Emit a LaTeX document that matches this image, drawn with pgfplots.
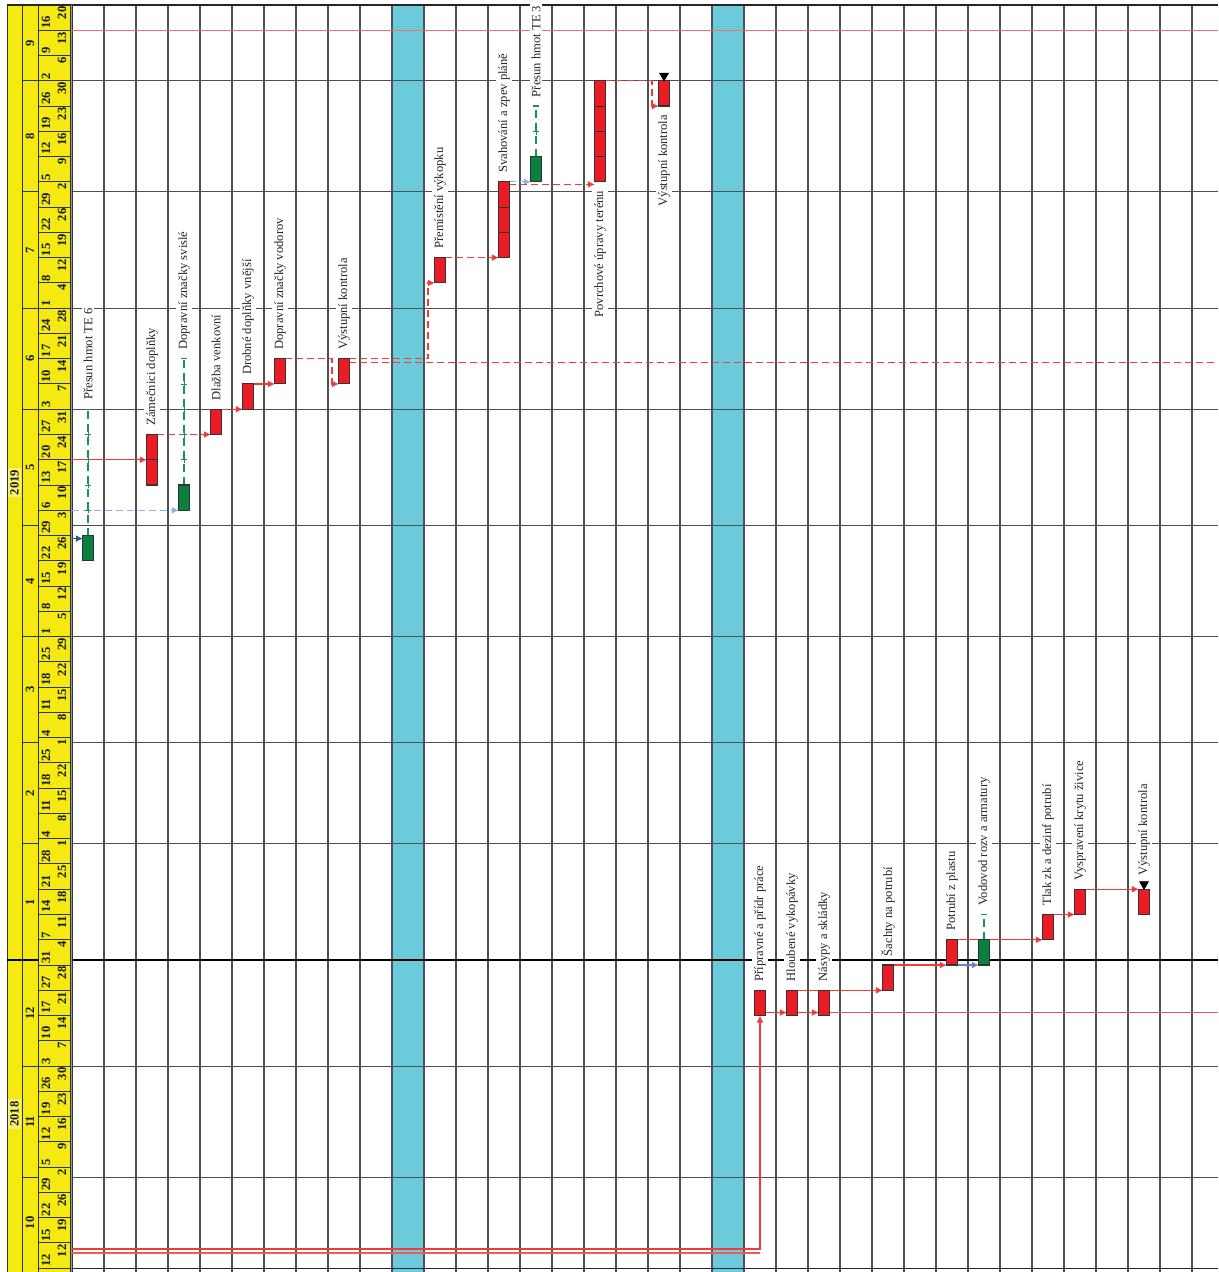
\documentclass[border=0pt]{standalone}
\usepackage{pgfplots}
\pgfplotsset{compat=1.18}
\usepackage{pgfplotstable}
\usepackage{fontspec}
\setmainfont{Liberation Serif}
\usetikzlibrary{arrows.meta}

\definecolor{barred}{RGB}{237,28,36}
\definecolor{bargreen}{RGB}{10,128,64}
\definecolor{cyanband}{RGB}{108,203,219}
\definecolor{hdryellow}{RGB}{244,233,16}
\definecolor{linkred}{RGB}{238,60,60}
\definecolor{toplinered}{RGB}{240,110,110}
\definecolor{lightblue}{RGB}{140,182,226}
\definecolor{darkblue}{RGB}{50,80,160}
\definecolor{midblue}{RGB}{100,130,200}
\definecolor{slackgreen}{RGB}{30,145,85}
\definecolor{gridc}{RGB}{80,80,80}

\tikzset{
  lnk/.style={line width=0.65pt, -{Latex[length=3.5pt,width=3.5pt]}},
  dsh/.style={dash pattern=on 3.5pt off 2pt},
  tasklabel/.style={rotate=90, fill=white, inner sep=1pt, text=black!85, font=\fontsize{6.3}{7}\selectfont},
  hdr/.style={font=\fontsize{6.3}{6.5}\selectfont\bfseries, text=black!90},
}

% week cells: Monday start (workday index, 1 Jan 2019 = 0), Monday and Friday labels
\pgfplotstableread{
d mon fri
-61 12 12
-56 15 19
-51 22 26
-46 29 2
-41 5 9
-36 12 16
-31 19 23
-26 26 30
-21 3 7
-16 10 14
-11 17 21
-6 27 28
-1 31 4
4 7 11
9 14 18
14 21 25
19 28 1
24 4 8
29 11 15
34 18 22
39 25 1
44 4 8
49 11 15
54 18 22
59 25 29
64 1 5
69 8 12
74 15 19
79 22 26
84 29 3
89 6 10
94 13 17
99 20 24
104 27 31
109 3 7
114 10 14
119 17 21
124 24 28
129 1 4
134 8 12
139 15 19
144 22 26
149 29 2
154 5 9
159 12 16
164 19 23
169 26 30
174 2 6
179 9 13
184 16 20
}\weeks

\pgfplotstableread{
d t
-52 10
-32 11
-10.5 12
11.5 1
33 2
53.5 3
75 4
97.5 5
119 6
140.5 7
163 8
181.5 9
}\months

\newcommand{\taskbar}[4]{%
  \pgfmathsetmacro\tbxa{#1-0.16}\pgfmathsetmacro\tbxb{#1+0.16}%
  \edef\tbtmp{\noexpand\addplot[fill=#4, draw=black!80, line width=0.55pt] coordinates {(\tbxa,#2) (\tbxb,#2) (\tbxb,#3) (\tbxa,#3)} --cycle;}\tbtmp}
\newcommand{\divider}[2]{%
  \pgfmathsetmacro\tbxa{#1-0.16}\pgfmathsetmacro\tbxb{#1+0.16}%
  \edef\tbtmp{\noexpand\addplot[black!80, line width=0.5pt] coordinates {(\tbxa,#2) (\tbxb,#2)};}\tbtmp}
\newcommand{\slack}[3]{%
  \pgfmathsetmacro\tbxa{#1-0.1}\pgfmathsetmacro\tbxb{#1+0.1}%
  \edef\tbtmp{\noexpand\addplot[slackgreen, line width=0.6pt, dash pattern=on 4pt off 2.5pt] coordinates {(#1,#2) (#1,#3)};
  \noexpand\addplot[slackgreen, line width=0.6pt] coordinates {(\tbxa,#3) (\tbxb,#3)};}\tbtmp}

\begin{document}
\begin{tikzpicture}
\begin{axis}[
  scale only axis, width=609pt, height=636pt,
  xmin=-2.75, xmax=35.3125, ymin=-61.75, ymax=189.99,
  hide axis, clip=true,
]
% background
\addplot[fill=white, draw=none] coordinates {(-2.75,-61.75) (35.3125,-61.75) (35.3125,189.99) (-2.75,189.99)} --cycle;
% cyan bands
\addplot[fill=cyanband, draw=none] coordinates {(9.5,-61.75) (10.5,-61.75) (10.5,189) (9.5,189)} --cycle;
\addplot[fill=cyanband, draw=none] coordinates {(19.5,-61.75) (20.5,-61.75) (20.5,189) (19.5,189)} --cycle;
% vertical grid
\pgfplotsinvokeforeach{-0.5,0.5,...,34.5}{
  \addplot[gridc, line width=0.55pt] coordinates {(#1,-61.75) (#1,189)};
}
% month lines in chart
\pgfplotsinvokeforeach{-43,-21,23,43,64,86,109,129,152,174}{
  \addplot[gridc, line width=0.55pt] coordinates {(-0.5,#1) (35.3125,#1)};
}
\addplot[black, line width=1pt] coordinates {(-0.5,0) (35.3125,0)};
\addplot[black!85, line width=0.6pt] coordinates {(-2.531,189) (35.3125,189)};
\addplot[black!85, line width=0.6pt] coordinates {(-1.5625,-61) (35.3125,-61)};

% header
\addplot[fill=hdryellow, draw=none] coordinates {(-2.531,-61.75) (-0.5625,-61.75) (-0.5625,189) (-2.531,189)} --cycle;
\addplot[fill=black!40, draw=none] coordinates {(-0.5625,-61.75) (-0.5,-61.75) (-0.5,189) (-0.5625,189)} --cycle;
\pgfplotsinvokeforeach{-2.531,-2.0625,-1.5625,-0.5625,-0.5}{
  \addplot[black!80, line width=0.5pt] coordinates {(#1,-61.75) (#1,189)};
}
\pgfplotsinvokeforeach{-43,-21,23,43,64,86,109,129,152,174}{
  \addplot[black!80, line width=0.5pt] coordinates {(-2.0625,#1) (-1.5625,#1)};
}
\pgfplotsinvokeforeach{-61,-56,...,189}{
  \addplot[black!80, line width=0.5pt] coordinates {(-1.5625,#1) (-0.5625,#1)};
}
\addplot[black, line width=1pt] coordinates {(-2.531,0) (-1.5625,0)};
\addplot[black!85, line width=0.6pt] coordinates {(-2.531,189) (-0.5625,189)};

% header labels
\addplot[only marks, mark=none, nodes near coords, point meta=explicit symbolic,
  every node near coord/.append style={hdr, rotate=90, anchor=west, inner sep=0.6pt}]
  table[x expr=-1.3125, y=d, meta=mon] {\weeks};
\addplot[only marks, mark=none, nodes near coords, point meta=explicit symbolic,
  every node near coord/.append style={hdr, rotate=90, anchor=east, inner sep=0.6pt}]
  table[x expr=-0.8125, y expr=\thisrow{d}+5, meta=fri] {\weeks};
\addplot[only marks, mark=none, nodes near coords, point meta=explicit symbolic,
  every node near coord/.append style={hdr, rotate=90, anchor=center}]
  table[x expr=-1.8125, y=d, meta=t] {\months};
\node[hdr, rotate=90, fill=hdryellow!60!white, inner sep=1pt] at (axis cs:-2.297,-30.5) {2018};
\node[hdr, rotate=90, fill=hdryellow!60!white, inner sep=1pt] at (axis cs:-2.297,94.5) {2019};

% long red lines
\addplot[toplinered, line width=0.55pt] coordinates {(-0.5,184) (35.3125,184)};
\addplot[linkred, line width=0.65pt, dsh] coordinates {(8.16,118.3) (35.3125,118.3)};
\addplot[linkred!85, line width=0.6pt] coordinates {(21.16,-10.4) (35.3125,-10.4)};
\addplot[linkred!85, line width=0.6pt] coordinates {(-0.5,-58.0) (21,-58.0)};
\addplot[linkred, lnk] coordinates {(-0.5,-57.2) (21,-57.2) (21,-11)};

% links
\addplot[darkblue, lnk] coordinates {(-0.5,83.4) (-0.16,83.4)};
\addplot[linkred, lnk] coordinates {(-0.5,99) (1.84,99)};
\addplot[lightblue, lnk, dsh] coordinates {(-0.5,89) (2.84,89)};
\addplot[linkred, lnk, dsh] coordinates {(2.16,104) (3.84,104)};
\addplot[linkred, lnk, dsh] coordinates {(4.16,109) (4.84,109)};
\addplot[linkred, lnk] coordinates {(5.16,114) (5.84,114)};
\addplot[linkred, lnk, dsh] coordinates {(6.16,119) (7.625,119) (7.625,114) (7.84,114)};
\addplot[linkred, lnk, dsh] coordinates {(8.16,119) (10.625,119) (10.625,134) (10.84,134)};
\addplot[linkred, lnk, dsh] coordinates {(11.16,139) (12.84,139)};
\addplot[lightblue, lnk, dsh] coordinates {(13.16,154) (13.84,154)};
\addplot[linkred, lnk, dsh] coordinates {(13.16,153.5) (15.84,153.5)};
\addplot[linkred, lnk, dsh] coordinates {(16.16,174) (17.625,174) (17.625,169) (17.84,169)};
\addplot[linkred, lnk] coordinates {(21.16,-10.4) (21.84,-10.4)};
\addplot[linkred, lnk] coordinates {(22.16,-10.4) (22.84,-10.4)};
\addplot[linkred, lnk] coordinates {(22.16,-6) (24.84,-6)};
\addplot[linkred, lnk] coordinates {(25.16,-1) (26.84,-1)};
\addplot[midblue, lnk] coordinates {(27.16,-1) (27.84,-1)};
\addplot[linkred, lnk] coordinates {(27.16,4) (29.84,4)};
\addplot[linkred, lnk] coordinates {(30.16,9) (30.84,9)};
\addplot[linkred, lnk] coordinates {(31.16,14) (32.84,14)};

% slack lines
\slack{0}{84}{109}
\addplot[only marks, mark=+, slackgreen, mark size=1.6pt] coordinates {(0,89) (0,94) (0,99) (0,104)};
\slack{3}{94}{119}
\addplot[only marks, mark=+, slackgreen, mark size=1.6pt] coordinates {(3,99) (3,104) (3,109) (3,114)};
\slack{14}{159}{169}
\addplot[only marks, mark=+, slackgreen, mark size=1.6pt] coordinates {(14,164)};
\slack{28}{4}{9}

% bars
\taskbar{0}{79}{84}{bargreen}
\taskbar{2}{94}{104}{barred}\divider{2}{99}
\taskbar{3}{89}{94}{bargreen}
\taskbar{4}{104}{109}{barred}
\taskbar{5}{109}{114}{barred}
\taskbar{6}{114}{119}{barred}
\taskbar{8}{114}{119}{barred}
\taskbar{11}{134}{139}{barred}
\taskbar{13}{139}{154}{barred}\divider{13}{144}\divider{13}{149}
\taskbar{14}{154}{159}{bargreen}
\taskbar{16}{154}{174}{barred}\divider{16}{159}\divider{16}{164}\divider{16}{169}
\taskbar{18}{169}{174}{barred}
\taskbar{21}{-11}{-6}{barred}
\taskbar{22}{-11}{-6}{barred}
\taskbar{23}{-11}{-6}{barred}
\taskbar{25}{-6}{-1}{barred}
\taskbar{27}{-1}{4}{barred}
\taskbar{28}{-1}{4}{bargreen}
\taskbar{30}{4}{9}{barred}
\taskbar{31}{9}{14}{barred}
\taskbar{33}{9}{14}{barred}

% milestones (finish markers)
\addplot[only marks, mark=triangle*, mark size=2.5pt, mark options={rotate=180, fill=black, draw=black}] coordinates {(18,175.0) (33,15.0)};

% task labels
\node[tasklabel, anchor=west] at (axis cs:0,110.4) {Přesun hmot TE 6};
\node[tasklabel, anchor=west] at (axis cs:2,105.3) {Zámečnici doplňky};
\node[tasklabel, anchor=west] at (axis cs:3,120.3) {Dopravní značky svislé};
\node[tasklabel, anchor=west] at (axis cs:4,110.3) {Dlažba venkovní};
\node[tasklabel, anchor=west] at (axis cs:5,115.3) {Drobné doplňky vnější};
\node[tasklabel, anchor=west] at (axis cs:6,120.3) {Dopravní značky vodorov};
\node[tasklabel, anchor=west] at (axis cs:8,120.3) {Výstupní kontrola};
\node[tasklabel, anchor=west] at (axis cs:11,140.3) {Přemístění výkopku};
\node[tasklabel, anchor=west] at (axis cs:13,155.3) {Svahování a zpev pláně};
\node[tasklabel, anchor=west] at (axis cs:14,170.3) {Přesun hmot TE 3};
\node[tasklabel, anchor=east] at (axis cs:16,152.7) {Povrchové úpravy terénu};
\node[tasklabel, anchor=east] at (axis cs:18,167.7) {Výstupní kontrola};
\node[tasklabel, anchor=west] at (axis cs:21,-4.7) {Přípravné a přídr práce};
\node[tasklabel, anchor=west] at (axis cs:22,-4.7) {Hloubené vykopávky};
\node[tasklabel, anchor=west] at (axis cs:23,-4.7) {Násypy a skládky};
\node[tasklabel, anchor=west] at (axis cs:25,0.3) {Šachty na potrubí};
\node[tasklabel, anchor=west] at (axis cs:27,5.3) {Potrubí z plastu};
\node[tasklabel, anchor=west] at (axis cs:28,10.3) {Vodovod rozv a armatury};
\node[tasklabel, anchor=west] at (axis cs:30,10.3) {Tlak zk a dezinf potrubí};
\node[tasklabel, anchor=west] at (axis cs:31,15.3) {Vyspravení krytu živice};
\node[tasklabel, anchor=west] at (axis cs:33,16.2) {Výstupní kontrola};
\end{axis}
\end{tikzpicture}
\end{document}
